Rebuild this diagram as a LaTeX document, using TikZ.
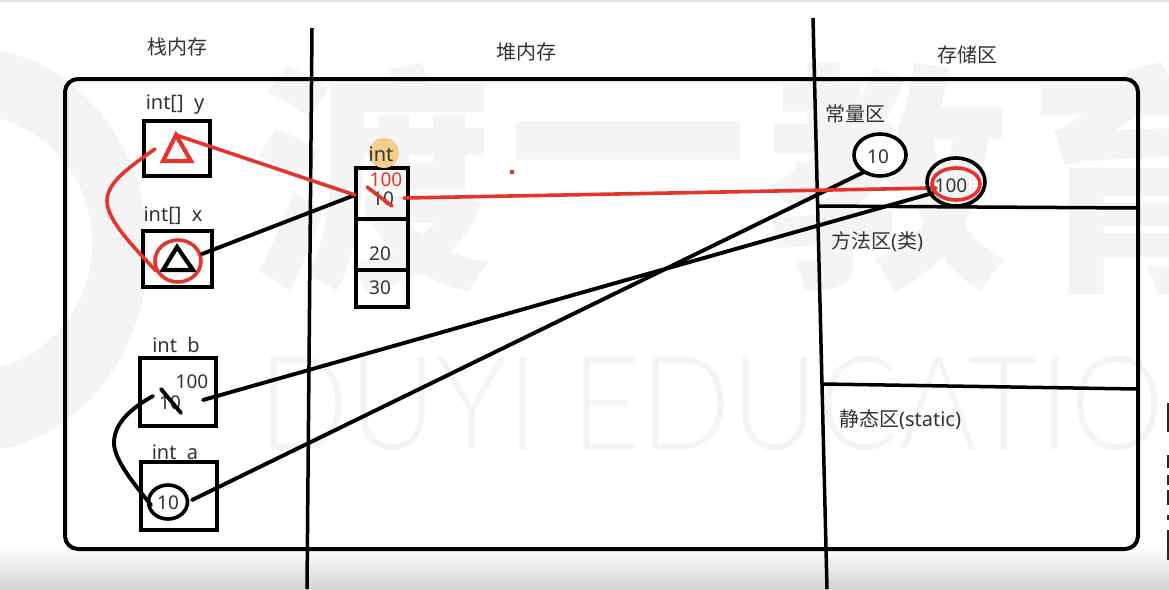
\documentclass[tikz,border=0pt]{standalone}
\usepackage{fontspec}
\usepackage{graphicx}
\setmainfont{Noto Sans}
\newfontfamily\cjk{Noto Sans CJK SC}
\IfFontExistsTF{Lato Light}{\newfontfamily\wmfont{Lato Light}}{\newfontfamily\wmfont{Noto Sans}}
\usetikzlibrary{shapes.geometric}
\definecolor{redink}{HTML}{E4342B}
\definecolor{wmgray}{HTML}{F4F4F4}
\definecolor{ink}{HTML}{333333}
\definecolor{halo}{HTML}{F2D08C}
\definecolor{topbar}{HTML}{DFE3EF}
\tikzset{
  x=1pt,y=-1pt,
  heavy/.style={line width=3.8pt,draw=black},
  divider/.style={line width=3.5pt,draw=black},
  redline/.style={line width=3.6pt,draw=redink,line cap=round},
  blackline/.style={line width=3.9pt,draw=black,line cap=round},
  cell/.style={rectangle,draw=black,line width=4pt,inner sep=0,fill=none},
  lab/.style={inner sep=0,text=ink,font=\fontsize{20}{24}\selectfont},
  zh/.style={inner sep=0,text=ink,font=\cjk\fontsize{20}{24}\selectfont},
  num/.style={inner sep=0,text=ink,font=\fontsize{19}{22}\selectfont},
  oval/.style={ellipse,draw=black,line width=3.6pt,inner sep=0},
  tri/.style={line width=4.2pt,line join=miter},
  wmtext/.style={inner sep=0,text=wmgray,anchor=center},
  wmzh/.style={wmtext,font=\cjk\bfseries\fontsize{240}{250}\selectfont}
}
\begin{document}
\begin{tikzpicture}
\useasboundingbox (0,0) rectangle (1169,589);
\clip (0,0) rectangle (1169,589);
\fill[white] (0,0) rectangle (1169,589);
% watermark
\fill[wmgray,even odd rule] (-30,250) ellipse [x radius=178,y radius=202] (-30,243) ellipse [x radius=122,y radius=128];
\node[wmzh] (wm1) at (372,178) {渡};
\node[wmzh] (wm2) at (628,178) {一};
\node[wmzh] (wm3) at (888,178) {教};
\node[wmzh] (wm4) at (1148,178) {育};
\node[wmtext,font=\wmfont\fontsize{130}{132}\selectfont] (wmen) at (757,404) {\scalebox{.92}[1]{DUYI EDUCATION}};
% bottom band and top line
\shade[top color=white,bottom color=black!17] (0,546) rectangle (1169,589);
\fill[topbar] (0,0) rectangle (1169,2);
% frame and dividers
\node[draw=black,line width=4pt,rounded corners=13pt,minimum width=1073pt,minimum height=470pt,inner sep=0] (frame) at (601.5,314) {};
\coordinate (v1t) at (312,28); \coordinate (v1b) at (307,589);
\coordinate (v2t) at (813,18); \coordinate (v2b) at (827,589);
\coordinate (h1l) at (818,206); \coordinate (h1r) at (1137,208);
\coordinate (h2l) at (822,384); \coordinate (h2r) at (1137,389);
\draw[divider] (v1t) -- (v1b);
\draw[divider] (v2t) -- (v2b);
\draw[divider] (h1l) -- (h1r);
\draw[divider] (h2l) -- (h2r);
% headings
\node[zh] (t1) at (177,47) {栈内存};
\node[zh] (t2) at (526,52) {堆内存};
\node[zh] (t3) at (967,55) {存储区};
\node[zh] (c1) at (855,114) {常量区};
\node[lab] (c2) at (877,242) {{\cjk 方法区}({\cjk 类})};
\node[lab] (c3) at (900,420) {{\cjk 静态区}(static)};
% stack boxes
\node[lab] (ly) at (175,105) {int[]\ \ y};
\node[cell,minimum width=66pt,minimum height=55pt] (by) at (177,148) {};
\node[lab] (lx) at (173,216) {int[]\ \ x};
\node[cell,minimum width=69pt,minimum height=56pt] (bx) at (177,259) {};
\node[lab] (lb) at (176,345) {int\ \ b};
\node[cell,minimum width=76pt,minimum height=68pt] (bb) at (178,392) {};
\node[lab] (la) at (175,452) {int\ \ a};
\node[cell,minimum width=76pt,minimum height=68pt] (ba) at (179,496) {};
% triangles
\coordinate (ry1) at (176,135); \coordinate (ry2) at (163,161); \coordinate (ry3) at (191,161);
\coordinate (bx1) at (177,247); \coordinate (bx2) at (163,270); \coordinate (bx3) at (193,270);
\draw[redink,tri] (ry1) -- (ry2) -- (ry3) -- cycle;
\draw[black,tri] (bx1) -- (bx2) -- (bx3) -- cycle;
\node[ellipse,draw=redink,line width=3.6pt,minimum width=46pt,minimum height=42pt,inner sep=0] (rc) at (178,261) {};
% heap array
\node[cell,minimum width=52pt,minimum height=139pt] (arr) at (382,237) {};
\coordinate (d1l) at (356,219); \coordinate (d1r) at (408,219);
\coordinate (d2l) at (356,270); \coordinate (d2r) at (408,270);
\draw[heavy] (d1l) -- (d1r);
\draw[heavy] (d2l) -- (d2r);
\fill[halo] (384,153) circle (15);
\node[lab] (lint) at (381,154) {int};
\node[num] (n10) at (383,199) {10};
\node[num,text=redink] (n100) at (386,180) {100};
\node[num] (n20) at (380,254) {20};
\node[num] (n30) at (380,288) {30};
\coordinate (s1) at (367,187); \coordinate (s2) at (392,206);
\draw[redline] (s1) -- (s2);
\fill[redink] (512,172) circle (2.4);
% stack values
\node[num] (b100) at (192,382) {100};
\node[num] (b10) at (170,403) {10};
\coordinate (s3) at (161,389); \coordinate (s4) at (181,413);
\draw[blackline] (s3) -- (s4);
\node[oval,minimum width=39pt,minimum height=34pt] (a10) at (168,502) {};
\node[num] (a10t) at (168,503) {10};
% constants
\node[oval,fill=white,minimum width=52pt,minimum height=42pt] (k10) at (880,155) {};
\node[num] (k10t) at (878,157) {10};
% connectors
\coordinate (hp) at (355,195);
\coordinate (xo) at (202,254);
\coordinate (bo) at (203,400);
\coordinate (ao) at (192,500);
\coordinate (k100in) at (933,193);
\coordinate (k10in) at (864,172);
\coordinate (hr) at (404,198);
\coordinate (rk) at (936,188);
\draw[blackline] (xo) -- (hp);
\draw[redline] (ry1) -- (hp);
\draw[blackline] (bo) -- (k100in);
\draw[blackline] (ao) -- (k10in);
\draw[redline] (hr) -- (rk);
\coordinate (rcs) at (155,149); \coordinate (rce) at (156,271);
\draw[redline] (rcs) .. controls (125,170) and (108,183) .. (107,200) .. controls (106,220) and (135,248) .. (rce);
\coordinate (bcs) at (153,396); \coordinate (bce) at (151,505);
\draw[blackline] (bcs) .. controls (128,410) and (114,425) .. (114,443) .. controls (114,460) and (135,485) .. (bce);
% constant 100
\node[oval,minimum width=58pt,minimum height=48pt] (k100) at (956,182) {};
\node[ellipse,draw=redink,line width=3.6pt,minimum width=48pt,minimum height=32pt,inner sep=0] (k100r) at (956,184) {};
\node[num] (k100t) at (951,186) {100};
% edge marks on the right
\foreach \a/\b in {403/432,455/468,475/485,490/505,515/520,530/560}
  \fill[black!85] (1166.5,\a) rectangle (1169,\b);
\end{tikzpicture}
\end{document}
